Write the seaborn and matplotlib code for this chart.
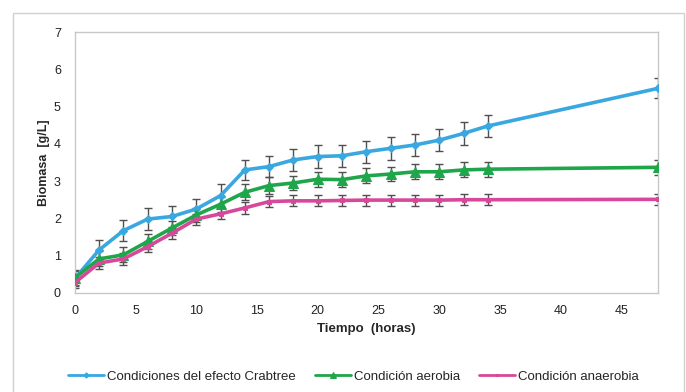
import matplotlib
matplotlib.use("Agg")
import matplotlib.pyplot as plt
import seaborn as sns
import pandas as pd
from matplotlib.patches import Rectangle

# data
horas = [0, 2, 4, 6, 8, 10, 12, 14, 16, 18, 20, 22, 24, 26, 28, 30, 32, 34, 48]
crabtree = [0.38, 1.15, 1.67, 1.98, 2.05, 2.25, 2.61, 3.3, 3.39, 3.57, 3.66, 3.68,
            3.79, 3.88, 3.97, 4.1, 4.28, 4.48, 5.49]
aerobia = [0.4, 0.91, 1.02, 1.38, 1.74, 2.09, 2.38, 2.7, 2.88, 2.95, 3.05, 3.04,
           3.14, 3.19, 3.25, 3.25, 3.3, 3.32, 3.37]
anaerobia = [0.27, 0.8, 0.91, 1.24, 1.6, 1.98, 2.12, 2.28, 2.45, 2.47, 2.47, 2.48,
             2.49, 2.49, 2.49, 2.49, 2.5, 2.5, 2.51]
err_crabtree = [0.2, 0.27, 0.28, 0.3, 0.28, 0.28, 0.3, 0.28, 0.28, 0.3, 0.3, 0.3,
                0.3, 0.3, 0.3, 0.3, 0.3, 0.3, 0.27]
err_aerobia = [0.2, 0.2, 0.2, 0.2, 0.2, 0.2, 0.2, 0.22, 0.22, 0.2, 0.2, 0.2,
               0.2, 0.2, 0.2, 0.2, 0.2, 0.2, 0.2]
err_anaerobia = [0.15, 0.15, 0.15, 0.15, 0.15, 0.15, 0.15, 0.15, 0.15, 0.15, 0.15, 0.15,
                 0.15, 0.15, 0.15, 0.15, 0.15, 0.15, 0.15]

series = [
    ("Condiciones del efecto Crabtree", crabtree, err_crabtree, "#3aa8e0", "D", 4.5),
    ("Condición aerobia", aerobia, err_aerobia, "#1fa64a", "^", 6.5),
    ("Condición anaerobia", anaerobia, err_anaerobia, "#d8489a", "s", 3.5),
]

sns.set_style("white")
plt.rcParams["font.family"] = ["Liberation Sans", "DejaVu Sans"]

fig = plt.figure(figsize=(6.86, 3.92), dpi=100)
ax = fig.add_axes([0.109, 0.253, 0.85, 0.665])

# outer chart frame
fig.patches.append(Rectangle((13 / 686, -0.01), 671 / 686, 1 - 13 / 392 + 0.01,
                             transform=fig.transFigure, fill=False,
                             edgecolor="#d0d0d0", linewidth=1.0))

for name, vals, errs, color, marker, ms in series:
    df = pd.DataFrame({"Tiempo": horas, "Biomasa": vals})
    ax.errorbar(horas, vals, yerr=errs, fmt="none", ecolor="#505050",
                elinewidth=1.0, capsize=3, capthick=1.0, zorder=2)
    sns.lineplot(data=df, x="Tiempo", y="Biomasa", ax=ax, color=color,
                 linewidth=2.6, marker=marker, markersize=ms,
                 markeredgecolor=color, label=name, zorder=3)

ax.set_xlim(0, 48)
ax.set_ylim(0, 7)
ax.set_xticks(range(0, 50, 5))
ax.set_yticks(range(0, 8))
ax.tick_params(axis="both", length=0, labelsize=9, colors="#222222")
ax.tick_params(axis="x", pad=9)
ax.tick_params(axis="y", pad=10)
for s in ax.spines.values():
    s.set_color("#c8c8c8")
    s.set_linewidth(1.0)

ax.set_xlabel("Tiempo  (horas)", fontsize=9.5, fontweight="bold", labelpad=4)
ax.set_ylabel("Biomasa  [g/L]", fontsize=9, fontweight="bold", labelpad=3)

leg = ax.legend(loc="upper center", bbox_to_anchor=(0.478, -0.253), ncol=3,
                frameon=False, fontsize=9.5, handlelength=2.7, columnspacing=1.5,
                handletextpad=0.2, markerscale=0.6)
for h in leg.get_lines():
    h.set_linewidth(2.0)

fig.savefig("out.png", dpi=100)
plt.close(fig)
